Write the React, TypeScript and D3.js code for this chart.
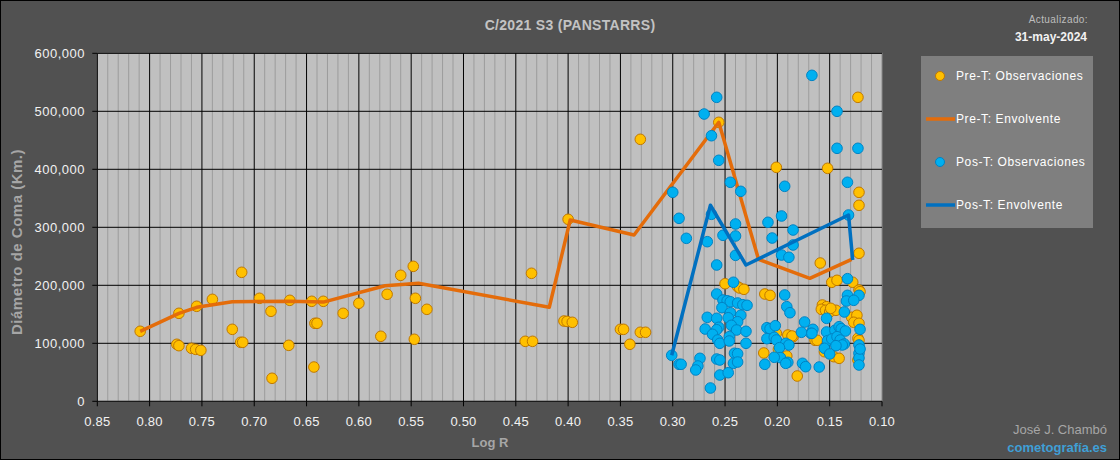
import * as d3 from 'd3'

// Log R vs. coma diameter (km)
const preObs: [number, number][] = [
  [0.809, 120700], [0.772, 151700], [0.774, 98300], [0.772, 95900], [0.760, 91400], [0.756, 89600],
  [0.751, 87900], [0.755, 163800], [0.740, 175800], [0.721, 124100], [0.712, 222400], [0.713, 101700],
  [0.711, 101700], [0.695, 177600], [0.684, 155200], [0.683, 39700], [0.666, 174100], [0.667, 96500],
  [0.645, 172400], [0.643, 59100], [0.642, 134500], [0.640, 134500], [0.634, 172400], [0.615, 151700],
  [0.600, 169000], [0.579, 112100], [0.573, 184500], [0.560, 217200], [0.548, 232700], [0.546, 177600],
  [0.547, 106900], [0.535, 158600],
  [0.435, 220700], [0.441, 103400], [0.434, 103400], [0.400, 313800], [0.404, 138400], [0.401, 137800],
  [0.396, 136200], [0.331, 451700], [0.350, 124100], [0.347, 124100], [0.341, 98300], [0.331, 119000],
  [0.326, 119000],
  [0.256, 481000], [0.250, 202700], [0.238, 197600], [0.236, 195300], [0.232, 193100],
  [0.123, 524100], [0.201, 403400], [0.152, 401700], [0.122, 360300], [0.122, 337900], [0.122, 255200],
  [0.159, 238400], [0.148, 205200], [0.143, 208600], [0.128, 205200], [0.122, 191900], [0.121, 189000],
  [0.212, 185000], [0.207, 182700],
  [0.157, 166000], [0.153, 163100], [0.158, 158600], [0.154, 156900], [0.150, 154000], [0.144, 156900],
  [0.149, 160300], [0.129, 144800], [0.124, 148300], [0.127, 136200], [0.122, 134500],
  [0.201, 117200], [0.190, 114300], [0.185, 111400], [0.186, 112600], [0.164, 105200], [0.162, 105200],
  [0.213, 83300], [0.199, 89600], [0.191, 78100], [0.155, 85500], [0.146, 76900], [0.141, 74100],
  [0.181, 43600], [0.123, 108600], [0.123, 71200], [0.122, 105000],
]

const preEnv: [number, number][] = [
  [0.809, 120700], [0.772, 151700], [0.755, 162000], [0.721, 171700], [0.666, 172500], [0.634, 171000],
  [0.575, 199300], [0.543, 203400], [0.418, 162100], [0.398, 312600], [0.337, 286700], [0.256, 481000],
  [0.218, 244800], [0.169, 212000], [0.129, 244800],
]

const posObs: [number, number][] = [
  [0.300, 360300], [0.294, 315500], [0.287, 281000], [0.301, 79300], [0.294, 63800], [0.292, 63800],
  [0.258, 524100], [0.270, 495300], [0.263, 457900], [0.256, 415500], [0.245, 377600], [0.235, 362000],
  [0.263, 322400], [0.240, 305700], [0.209, 308600],
  [0.267, 275200], [0.252, 286200], [0.240, 285000], [0.240, 251700], [0.258, 235000], [0.242, 205200],
  [0.258, 185000], [0.252, 174600], [0.248, 173400], [0.245, 171700], [0.238, 169500], [0.233, 166500],
  [0.229, 165500], [0.253, 161400], [0.245, 152700], [0.267, 144800], [0.258, 143100], [0.247, 144100],
  [0.235, 148300], [0.238, 137200], [0.256, 127600], [0.258, 123400], [0.269, 124600], [0.244, 131000],
  [0.239, 122900], [0.230, 120700], [0.262, 115500], [0.257, 105700], [0.255, 100000], [0.246, 111400],
  [0.246, 104000], [0.230, 100000],
  [0.274, 74100], [0.276, 60900], [0.278, 54000], [0.258, 72900], [0.255, 71200], [0.241, 82800],
  [0.238, 82100], [0.242, 65500], [0.238, 67700], [0.255, 45300], [0.247, 49300], [0.264, 22900],
  [0.167, 562000], [0.143, 500000], [0.143, 436200], [0.123, 436200], [0.193, 370700], [0.133, 377600],
  [0.132, 321200], [0.196, 319500], [0.185, 295300],
  [0.205, 281500], [0.185, 269500], [0.196, 252200], [0.189, 248300], [0.133, 211400], [0.193, 183300],
  [0.133, 182700], [0.122, 182700], [0.134, 172900], [0.127, 174100], [0.191, 163100], [0.188, 152700],
  [0.136, 154000], [0.153, 143100], [0.174, 136700], [0.210, 126900], [0.207, 125200], [0.202, 130300],
  [0.166, 124100], [0.168, 117200], [0.177, 119000], [0.153, 119500], [0.145, 122400], [0.141, 128600],
  [0.139, 125200], [0.135, 121200], [0.121, 124100], [0.210, 108000], [0.203, 110300], [0.201, 105700],
  [0.167, 117200], [0.152, 104500], [0.148, 107400], [0.143, 111400], [0.140, 105700], [0.136, 98800],
  [0.138, 97100], [0.144, 95900], [0.192, 100000], [0.189, 97100], [0.198, 92400], [0.197, 75200],
  [0.203, 75900], [0.190, 67200], [0.192, 65500], [0.212, 63800], [0.155, 91400], [0.150, 81600],
  [0.176, 65500], [0.173, 59700], [0.160, 59100], [0.122, 97100], [0.122, 82800], [0.122, 74700],
  [0.122, 62600], [0.121, 90200],
]

const posEnv: [number, number][] = [
  [0.301, 79300], [0.264, 338000], [0.230, 235000], [0.132, 321200], [0.128, 243600],
]

const xTicks = [0.85, 0.8, 0.75, 0.7, 0.65, 0.6, 0.55, 0.5, 0.45, 0.4, 0.35, 0.3, 0.25, 0.2, 0.15, 0.1]
const yTicks = [0, 100000, 200000, 300000, 400000, 500000, 600000]

const legendItems = [
  { label: 'Pre-T: Observaciones', kind: 'dot', fill: '#ffc000', stroke: '#c07800' },
  { label: 'Pre-T: Envolvente', kind: 'line', fill: '#e46c0a', stroke: '#e46c0a' },
  { label: 'Pos-T: Observaciones', kind: 'dot', fill: '#00b0f0', stroke: '#0083c4' },
  { label: 'Pos-T: Envolvente', kind: 'line', fill: '#0070c0', stroke: '#0070c0' },
]

const W = 1120
const H = 460
const FONT = 'Arial, "Liberation Sans", sans-serif'

export default function App() {
  const x = d3.scaleLinear().domain([0.85, 0.1]).range([97.3, 882])
  const y = d3.scaleLinear().domain([0, 600000]).range([401.3, 53.3])
  const line = d3.line<[number, number]>().x(d => x(d[0])).y(d => y(d[1]))

  // minor vertical grid every 0.01
  const minor = d3.range(11, 85).map(i => i / 100).filter(v => Math.round(v * 100) % 5 !== 0)
  const fmt = d3.format(',')

  return (
    <svg width={W} height={H} style={{ position: 'absolute', left: 0, top: 0, fontFamily: FONT }}>
      <rect x={0.5} y={0.5} width={W - 1} height={H - 1} fill="#515151" stroke="#000" />

      {/* plot area */}
      <rect x={x(0.85)} y={y(600000)} width={x(0.1) - x(0.85)} height={y(0) - y(600000)} fill="#c0c0c0" stroke="#8a8a8a" />
      {minor.map(v => (
        <line key={'m' + v} x1={x(v)} x2={x(v)} y1={y(600000)} y2={y(0)} stroke="#9c9c9c" strokeWidth={1} />
      ))}
      {xTicks.slice(1, -1).map(v => (
        <line key={'gx' + v} x1={x(v)} x2={x(v)} y1={y(600000)} y2={y(0)} stroke="#000" strokeWidth={1} />
      ))}
      {yTicks.slice(1).map(v => (
        <line key={'gy' + v} x1={x(0.85)} x2={x(0.1)} y1={y(v)} y2={y(v)} stroke="#000" strokeWidth={1} />
      ))}

      {/* axes */}
      <line x1={x(0.85)} x2={x(0.85)} y1={y(600000)} y2={y(0)} stroke="#000" />
      <line x1={x(0.85)} x2={x(0.1)} y1={y(0)} y2={y(0)} stroke="#000" />
      {yTicks.map(v => (
        <g key={'yt' + v}>
          <line x1={x(0.85) - 5} x2={x(0.85)} y1={y(v)} y2={y(v)} stroke="#000" />
          <text x={85} y={y(v)} dy="0.35em" textAnchor="end" fontSize={13} letterSpacing={0.5} fill="#f2f2f2">
            {fmt(v)}
          </text>
        </g>
      ))}
      {xTicks.map(v => (
        <g key={'xt' + v}>
          <line x1={x(v)} x2={x(v)} y1={y(0)} y2={y(0) + 5} stroke="#000" />
          <text x={x(v)} y={426} textAnchor="middle" fontSize={13} letterSpacing={0.2} fill="#f2f2f2">
            {v.toFixed(2)}
          </text>
        </g>
      ))}

      {/* series */}
      {preObs.map((d, i) => (
        <circle key={'po' + i} cx={x(d[0])} cy={y(d[1])} r={5.3} fill="#ffc000" stroke="#c07800" strokeWidth={1} />
      ))}
      <path d={line(preEnv) ?? ''} fill="none" stroke="#e46c0a" strokeWidth={3.5} strokeLinejoin="round" />
      {posObs.map((d, i) => (
        <circle key={'bo' + i} cx={x(d[0])} cy={y(d[1])} r={5.3} fill="#00b0f0" stroke="#0083c4" strokeWidth={1} />
      ))}
      <path d={line(posEnv) ?? ''} fill="none" stroke="#0070c0" strokeWidth={3.5} strokeLinejoin="round" />

      {/* titles */}
      <text x={570} y={30} textAnchor="middle" fontSize={14} fontWeight="bold" letterSpacing={0.3} fill="#c3c3c3">
        C/2021 S3 (PANSTARRS)
      </text>
      <text x={1088} y={23} textAnchor="end" fontSize={10} letterSpacing={0.4} fill="#bdbdbd">
        Actualizado:
      </text>
      <text x={1087} y={41} textAnchor="end" fontSize={12} fontWeight="bold" fill="#f2f2f2">
        31-may-2024
      </text>
      <text transform="translate(22,242) rotate(-90)" textAnchor="middle" fontSize={15} fontWeight="bold" letterSpacing={0.5} fill="#a6a6a6">
        Diámetro de Coma (Km.)
      </text>
      <text x={490} y={447} textAnchor="middle" fontSize={13} fontWeight="bold" fill="#a6a6a6">
        Log R
      </text>
      <text x={1107} y={434} textAnchor="end" fontSize={13} fill="#a6a6a6">
        José J. Chambó
      </text>
      <text x={1107} y={452} textAnchor="end" fontSize={13} fontWeight="bold" fill="#3f9fd6">
        cometografía.es
      </text>

      {/* legend */}
      <rect x={921} y={56} width={172} height={172} fill="#7f7f7f" />
      {legendItems.map((it, i) => {
        const cy = 76 + i * 43
        return (
          <g key={it.label}>
            {it.kind === 'dot' ? (
              <circle cx={940} cy={cy} r={4.5} fill={it.fill} stroke={it.stroke} />
            ) : (
              <line x1={926} x2={955} y1={cy} y2={cy} stroke={it.stroke} strokeWidth={3.5} />
            )}
            <text x={956} y={cy} dy="0.35em" fontSize={12} letterSpacing={0.6} fill="#ffffff">
              {it.label}
            </text>
          </g>
        )
      })}
    </svg>
  )
}
